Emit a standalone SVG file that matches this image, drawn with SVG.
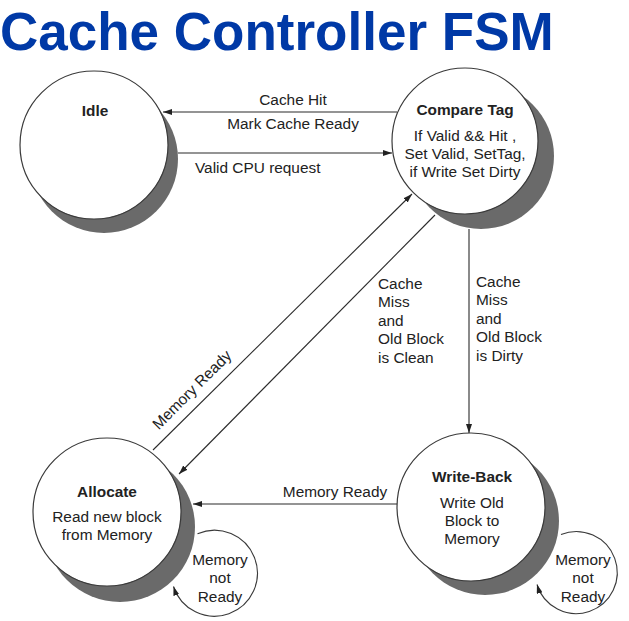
<svg xmlns="http://www.w3.org/2000/svg" width="629" height="621" viewBox="0 0 629 621">
<defs>
<marker id="ah" markerUnits="userSpaceOnUse" markerWidth="10" markerHeight="6" refX="9" refY="3" orient="auto">
<path d="M0,0 L9,3 L0,6 z" fill="#222"/>
</marker>
</defs>
<style>
.title{font-family:"Liberation Sans",Arial,sans-serif;font-weight:bold;font-size:53px;fill:#0039a6}
.t{font-family:"Liberation Sans",Arial,sans-serif;font-size:15.4px;fill:#222}
.c{text-anchor:middle}
.b{font-weight:bold}
.shadow{fill:#6a6a6a}
.node{fill:#fff;stroke:#3a3a3a;stroke-width:1.2}
.loop{fill:none;stroke:#3a3a3a;stroke-width:1.1}
.edge{fill:none;stroke:#2a2a2a;stroke-width:1.1}
</style>
<rect width="629" height="621" fill="#fff"/>
<text class="title" x="0" y="50">Cache Controller FSM</text>

<g id="idle">
<circle class="shadow" cx="104" cy="159" r="74"/>
<circle class="node" cx="94" cy="145" r="74"/>
<text class="t c b" x="95" y="115.5">Idle</text>
</g>

<g id="compare-tag">
<circle class="shadow" cx="481" cy="156" r="73"/>
<circle class="node" cx="465" cy="141" r="73"/>
<text class="t c b" x="465" y="114.5">Compare Tag</text>
<text class="t c" x="465" y="140.5">If Valid &amp;&amp; Hit ,</text>
<text class="t c" x="465" y="158.5">Set Valid, SetTag,</text>
<text class="t c" x="465" y="176.5">if Write Set Dirty</text>
</g>

<g id="allocate">
<circle class="shadow" cx="120" cy="527" r="75"/>
<circle class="node" cx="107" cy="512" r="74"/>
<text class="t c b" x="107" y="496.5">Allocate</text>
<text class="t c" x="107" y="521.5">Read new block</text>
<text class="t c" x="107" y="539.5">from Memory</text>
</g>

<g id="write-back">
<circle class="shadow" cx="485" cy="521" r="74"/>
<circle class="node" cx="471" cy="507" r="74"/>
<text class="t c b" x="472" y="481.5">Write-Back</text>
<text class="t c" x="472" y="507.5">Write Old</text>
<text class="t c" x="472" y="525.5">Block to</text>
<text class="t c" x="472" y="543.5">Memory</text>
</g>

<g id="connectors">
<line class="edge" x1="397" y1="112" x2="163" y2="112" marker-end="url(#ah)"/>
<text class="t c" x="293" y="104.5">Cache Hit</text>
<text class="t c" x="293" y="128.5">Mark Cache Ready</text>

<line class="edge" x1="178" y1="153" x2="392" y2="153" marker-end="url(#ah)"/>
<text class="t" x="195" y="173">Valid CPU request</text>

<line class="edge" x1="153" y1="450" x2="412" y2="194" marker-end="url(#ah)"/>
<text class="t c" x="192" y="395" transform="rotate(-45 192 390)">Memory Ready</text>

<line class="edge" x1="435" y1="215" x2="179" y2="474" marker-end="url(#ah)"/>
<text class="t" x="378" y="288.5">Cache</text>
<text class="t" x="378" y="307">Miss</text>
<text class="t" x="378" y="325.5">and</text>
<text class="t" x="378" y="344">Old Block</text>
<text class="t" x="378" y="362.5">is Clean</text>

<line class="edge" x1="469" y1="229" x2="469" y2="433" marker-end="url(#ah)"/>
<text class="t" x="476" y="286.5">Cache</text>
<text class="t" x="476" y="305">Miss</text>
<text class="t" x="476" y="323.5">and</text>
<text class="t" x="476" y="342">Old Block</text>
<text class="t" x="476" y="360.5">is Dirty</text>

<line class="edge" x1="397" y1="504" x2="193" y2="504" marker-end="url(#ah)"/>
<text class="t c" x="335" y="497">Memory Ready</text>

<path class="loop" d="M197.5,533.7 A43,43 0 1 1 173.5,586.5" marker-end="url(#ah)"/>
<text class="t c" x="220" y="565">Memory</text>
<text class="t c" x="220" y="583">not</text>
<text class="t c" x="220" y="602">Ready</text>

<path class="loop" d="M561,534.5 A41,41 0 1 1 537,584.5" marker-end="url(#ah)"/>
<text class="t c" x="583" y="565">Memory</text>
<text class="t c" x="583" y="583">not</text>
<text class="t c" x="583" y="602">Ready</text>
</g>
</svg>
